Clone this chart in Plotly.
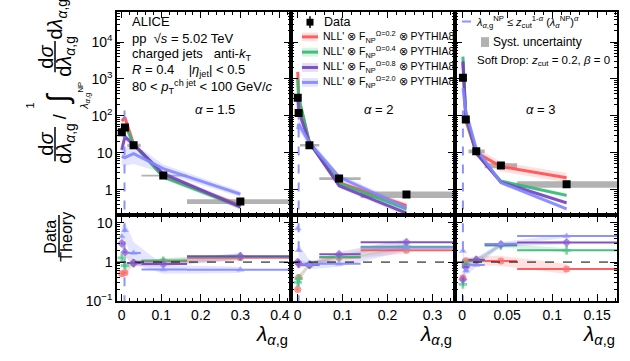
import numpy as np
import plotly.graph_objects as go

# ---- measured distributions (one block per alpha) ----
alphas = ["1.5", "2", "3"]

lam_15 = [0.0, 0.008, 0.03, 0.105, 0.30]
lo_15 = [-0.002, 0.004, 0.014, 0.05, 0.165]
hi_15 = [0.002, 0.012, 0.048, 0.165, 0.45]
data_15 = [36, 48, 16, 2.4, 0.48]
syst_15 = [0.08, 0.08, 0.1, 0.06, 0.15]
nll_15 = [[72, 90, 17, 2.3, 0.37],
          [28, 59, 17, 2.2, 0.35],
          [12, 27, 17, 2.7, 0.34],
          [8, 7.4, 9.4, 3.7, 0.76]]
unc_15 = [[0.2, 0.2, 0.15, 0.15, 0.2],
          [0.2, 0.2, 0.15, 0.15, 0.2],
          [0.25, 0.25, 0.2, 0.15, 0.2],
          [0.7, 0.7, 0.9, 0.3, 0.2]]

lam_2 = [0.0, 0.002, 0.026, 0.092, 0.242]
lo_2 = [-0.002, 0.0005, 0.005, 0.048, 0.14]
hi_2 = [0.0005, 0.005, 0.048, 0.14, 0.36]
data_2 = [310, 120, 16, 2.0, 0.74]
syst_2 = [0.05, 0.05, 0.08, 0.08, 0.2]
nll_2 = [[1550, 300, 18.8, 1.54, 0.37],
         [1030, 316, 18.8, 1.48, 0.30],
         [310, 133, 18.8, 1.27, 0.23],
         [43, 60, 18.8, 2.2, 0.32]]
unc_2 = [[0.2, 0.2, 0.12, 0.15, 0.2],
         [0.2, 0.2, 0.12, 0.15, 0.2],
         [0.25, 0.25, 0.15, 0.15, 0.2],
         [0.5, 0.5, 0.3, 0.2, 0.2]]

lam_3 = [0.0008, 0.004, 0.0156, 0.043, 0.116]
lo_3 = [0.0, 0.002, 0.007, 0.025, 0.061]
hi_3 = [0.002, 0.007, 0.025, 0.061, 0.2]
data_3 = [1070, 80, 11, 4.5, 1.4]
syst_3 = [0.05, 0.05, 0.12, 0.15, 0.2]
nll_3 = [[2700, 74, 10.2, 4.2, 2.1],
         [4000, 89, 10, 1.7, 0.7],
         [3000, 107, 9.6, 1.6, 0.44],
         [560, 133, 13, 1.55, 0.3]]
unc_3 = [[0.2, 0.2, 0.3, 0.35, 0.35],
         [0.2, 0.2, 0.12, 0.12, 0.12],
         [0.2, 0.2, 0.12, 0.12, 0.12],
         [0.3, 0.3, 0.15, 0.12, 0.12]]

np_cut = [0.007, 0.002, 0.0008]
np_line_top = 200

model_names = ["NLL' ⊗ F<sub>NP</sub><sup>Ω=0.2</sup> ⊗ PYTHIA8",
               "NLL' ⊗ F<sub>NP</sub><sup>Ω=0.4</sup> ⊗ PYTHIA8",
               "NLL' ⊗ F<sub>NP</sub><sup>Ω=0.8</sup> ⊗ PYTHIA8",
               "NLL' ⊗ F<sub>NP</sub><sup>Ω=2.0</sup> ⊗ PYTHIA8"]
line_cols = ["rgba(255,80,80,0.9)", "rgba(50,185,115,0.9)", "rgba(115,65,190,0.9)", "rgba(130,135,255,0.9)"]
band_cols = ["rgba(255,120,120,0.22)", "rgba(60,190,120,0.2)", "rgba(130,80,200,0.2)", "rgba(130,135,255,0.22)"]
mark_cols = ["rgba(255,110,110,0.75)", "rgba(70,200,130,0.7)", "rgba(140,90,210,0.7)", "rgba(140,145,255,0.7)"]
symbols = ["circle", "cross", "diamond", "triangle-up"]
np_col = "rgba(130,135,255,0.9)"
syst_col = "rgba(165,165,165,0.85)"

FONT = "Liberation Sans"
panels = [(lam_15, lo_15, hi_15, data_15, syst_15, nll_15, unc_15),
          (lam_2, lo_2, hi_2, data_2, syst_2, nll_2, unc_2),
          (lam_3, lo_3, hi_3, data_3, syst_3, nll_3, unc_3)]

fig = go.Figure()

for p, (lam, lo, hi, dat, syst, nll, unc) in enumerate(panels):
    n = str(p + 1) if p else ""
    nr = str(p + 4)
    lam = np.array(lam); dat = np.array(dat, float)
    lo = np.array(lo); hi = np.array(hi)

    # systematic boxes
    bx, by = [], []
    for i in range(len(lam)):
        bx += [lo[i], hi[i], hi[i], lo[i], lo[i], None]
        by += [dat[i] * (1 - syst[i]), dat[i] * (1 - syst[i]),
               dat[i] * (1 + syst[i]), dat[i] * (1 + syst[i]), dat[i] * (1 - syst[i]), None]
    fig.add_trace(go.Scatter(x=bx, y=by, xaxis="x" + n, yaxis="y" + n, mode="lines",
                             fill="toself", fillcolor=syst_col, line=dict(width=0),
                             name="Syst. uncertainty", hoverinfo="skip"))

    # theory bands and lines
    for m in range(4):
        th = np.array(nll[m], float)
        u = np.array(unc[m])
        fig.add_trace(go.Scatter(x=np.concatenate([lam, lam[::-1]]),
                                 y=np.concatenate([th * (1 + u), (th / (1 + u))[::-1]]),
                                 xaxis="x" + n, yaxis="y" + n, mode="lines", fill="toself",
                                 fillcolor=band_cols[m], line=dict(width=0), hoverinfo="skip"))
    for m in range(4):
        th = np.array(nll[m], float)
        fig.add_trace(go.Scatter(x=lam, y=th, xaxis="x" + n, yaxis="y" + n, mode="lines",
                                 line=dict(color=line_cols[m], width=3), name=model_names[m]))

    # NP cut line
    fig.add_trace(go.Scatter(x=[np_cut[p], np_cut[p]], y=[0.01, np_line_top],
                             xaxis="x" + n, yaxis="y" + n, mode="lines",
                             line=dict(color=np_col, width=2, dash="dash")))
    fig.add_trace(go.Scatter(x=[np_cut[p], np_cut[p]], y=[0.01, 100],
                             xaxis="x" + nr, yaxis="y" + nr, mode="lines",
                             line=dict(color=np_col, width=2, dash="dash")))

    # data
    fig.add_trace(go.Scatter(x=lam, y=dat, xaxis="x" + n, yaxis="y" + n, mode="markers",
                             marker=dict(symbol="square", size=8, color="black"),
                             error_y=dict(type="percent", value=6, color="black", thickness=1.5, width=0),
                             name="Data"))

    # ratio panel
    for m in range(4):
        th = np.array(nll[m], float)
        u = np.array(unc[m])
        r = dat / th
        fig.add_trace(go.Scatter(x=np.concatenate([lam, lam[::-1]]),
                                 y=np.concatenate([r * (1 + u), (r / (1 + u))[::-1]]),
                                 xaxis="x" + nr, yaxis="y" + nr, mode="lines", fill="toself",
                                 fillcolor=band_cols[m], line=dict(width=0), hoverinfo="skip"))
    for m in range(4):
        th = np.array(nll[m], float)
        r = dat / th
        fig.add_trace(go.Scatter(x=lam, y=r, xaxis="x" + nr, yaxis="y" + nr, mode="markers",
                                 marker=dict(symbol=symbols[m], size=7, color=mark_cols[m],
                                             line=dict(width=0)),
                                 error_x=dict(type="data", symmetric=False, array=hi - lam,
                                              arrayminus=lam - lo, color=line_cols[m],
                                              thickness=2, width=0)))
    fig.add_shape(type="line", xref="x" + nr + " domain", yref="y" + nr, x0=0, x1=1, y0=1, y1=1,
                  line=dict(color="black", width=1, dash="dash"))

# ---- axes ----
W, H = 630, 361
xdom = [[117 / W, 291 / W], [291 / W, 455 / W], [455 / W, 617 / W]]
xrng = [[-0.012, 0.428], [-0.015, 0.35], [-0.008, 0.172]]
xdt = [0.1, 0.1, 0.05]
xminor = [0.02, 0.02, 0.01]
top_dom = [1 - 220 / H, 1 - 12 / H]
bot_dom = [1 - 308 / H, 1 - 220 / H]

ax_common = dict(showline=True, linecolor="black", linewidth=1.5, mirror="allticks",
                 ticks="inside", ticklen=7, tickcolor="black", tickwidth=1, showgrid=False,
                 zeroline=False, tickfont=dict(size=14, color="black"))

lay = {}
for p in range(3):
    n = str(p + 1) if p else ""
    nr = str(p + 4)
    lay["xaxis" + n] = dict(ax_common, domain=xdom[p], range=xrng[p], anchor="y" + n,
                            dtick=xdt[p], tick0=0, showticklabels=False,
                            minor=dict(ticks="inside", ticklen=3.5, dtick=xminor[p], tick0=0, tickcolor="black"))
    lay["xaxis" + nr] = dict(ax_common, domain=xdom[p], range=xrng[p], anchor="y" + nr,
                             dtick=xdt[p], tick0=0,
                             minor=dict(ticks="inside", ticklen=3.5, dtick=xminor[p], tick0=0, tickcolor="black"))
    lay["yaxis" + n] = dict(ax_common, domain=top_dom, type="log", range=[-0.69, 4.82],
                            anchor="x" + n, tickmode="array",
                            tickvals=[1, 10, 100, 1000, 10000],
                            ticktext=["1", "10", "10<sup>2</sup>", "10<sup>3</sup>", "10<sup>4</sup>"],
                            showticklabels=(p == 0),
                            minor=dict(ticks="inside", ticklen=3.5, dtick="D1", tickcolor="black"))
    lay["yaxis" + nr] = dict(ax_common, domain=bot_dom, type="log", range=[-1.0, 1.2],
                             anchor="x" + nr, tickmode="array", tickvals=[0.1, 1, 10],
                             ticktext=["10<sup>−1</sup>", "1", "10"],
                             showticklabels=(p == 0),
                             minor=dict(ticks="inside", ticklen=3.5, dtick="D1", tickcolor="black"))

fig.update_layout(**lay)


def px(x):
    return x / W


def py(y):
    return 1 - y / H


ann = []
txt = [("ALICE", 22), ("pp  √<i>s</i> = 5.02 TeV", 39),
       ("charged jets   anti-<i>k</i><sub>T</sub>", 56),
       ("<i>R</i> = 0.4    |<i>η</i><sub>jet</sub>| &lt; 0.5", 72),
       ("80 &lt; <i>p</i><sub>T</sub><sup>ch jet</sup> &lt; 100 GeV/<i>c</i>", 89)]
for t, y in txt:
    ann.append(dict(text=t, x=px(130), y=py(y), xanchor="left", yanchor="middle", font=dict(size=13)))
for t, x in zip(alphas, [215, 378, 540]):
    ann.append(dict(text="<i>α</i> = " + t, x=px(x), y=py(112), xanchor="center", yanchor="middle",
                    font=dict(size=13)))

# legend (drawn by hand so the rows stay as compact as the original)
leg_rows = [22.7, 37.7, 53.3, 69, 84.3]
ann.append(dict(text="Data", x=px(322), y=py(leg_rows[0]), xanchor="left", yanchor="middle",
                font=dict(size=12.5)))
fig.add_shape(type="rect", xref="paper", yref="paper", x0=px(306.5), x1=px(313.5),
              y0=py(leg_rows[0] + 3.5), y1=py(leg_rows[0] - 3.5), fillcolor="black", line=dict(width=0))
fig.add_shape(type="line", xref="paper", yref="paper", x0=px(310), x1=px(310),
              y0=py(leg_rows[0] + 6), y1=py(leg_rows[0] - 6), line=dict(color="black", width=1.5))
for m in range(4):
    yr = leg_rows[m + 1]
    ann.append(dict(text=model_names[m], x=px(321), y=py(yr), xanchor="left", yanchor="middle",
                    font=dict(size=10.5)))
    fig.add_shape(type="rect", xref="paper", yref="paper", x0=px(302), x1=px(318),
                  y0=py(yr + 4.5), y1=py(yr - 4.5), fillcolor=band_cols[m], line=dict(width=0))
    fig.add_shape(type="line", xref="paper", yref="paper", x0=px(302), x1=px(318),
                  y0=py(yr), y1=py(yr), line=dict(color=line_cols[m], width=3))

ann.append(dict(text="<i>λ</i><sub><i>α</i>,g</sub><sup>NP</sup> ≤ <i>z</i><sub>cut</sub><sup>1-<i>α</i></sup> (<i>λ</i><sub><i>α</i></sub><sup>NP</sup>)<sup><i>α</i></sup>",
                x=px(474), y=py(22), xanchor="left", yanchor="middle", font=dict(size=11)))
fig.add_shape(type="line", xref="paper", yref="paper", x0=px(462), x1=px(472),
              y0=py(22), y1=py(22), line=dict(color=np_col, width=2, dash="dash"))
ann.append(dict(text="Syst. uncertainty", x=px(491), y=py(43), xanchor="left", yanchor="middle",
                font=dict(size=12)))
fig.add_shape(type="rect", xref="paper", yref="paper", x0=px(481), x1=px(489),
              y0=py(48), y1=py(38), fillcolor=syst_col, line=dict(width=0))
ann.append(dict(text="Soft Drop: <i>z</i><sub>cut</sub> = 0.2, <i>β</i> = 0", x=px(475), y=py(62),
                xanchor="left", yanchor="middle", font=dict(size=11.5)))

for x in [290, 454, 617]:
    ann.append(dict(text="<i>λ</i><sub><i>α</i>,g</sub>", x=px(x), y=py(343), xanchor="right",
                    yanchor="middle", font=dict(size=21)))

# y-axis titles (rotated)
rot = dict(textangle=-90, xanchor="center", yanchor="middle")
for y in [147, 58]:
    ann.append(dict(rot, text="d<i>σ</i>", x=px(46), y=py(y), font=dict(size=20)))
    ann.append(dict(rot, text="d<i>λ</i><sub><i>α</i>,g</sub>", x=px(66), y=py(y), font=dict(size=20)))
ann.append(dict(rot, text="/", x=px(60), y=py(120), font=dict(size=18)))
ann.append(dict(rot, text="∫", x=px(58), y=py(101), font=dict(size=30)))
ann.append(dict(rot, text="1", x=px(30), y=py(108), font=dict(size=11)))
ann.append(dict(rot, text="<i>λ</i><sub><i>α</i>,g</sub><sup>NP</sup>", x=px(84), y=py(98), font=dict(size=11)))
ann.append(dict(rot, text="d<i>λ</i><sub><i>α</i>,g</sub>", x=px(57), y=py(20), font=dict(size=20)))
ann.append(dict(rot, text="Data", x=px(51), y=py(242), font=dict(size=16)))
ann.append(dict(rot, text="Theory", x=px(67), y=py(242), font=dict(size=16)))

for a in ann:
    a.update(xref="paper", yref="paper", showarrow=False)

for y0, y1 in [(130, 165), (42, 74)]:
    fig.add_shape(type="line", xref="paper", yref="paper", x0=px(55), x1=px(55),
                  y0=py(y0), y1=py(y1), line=dict(color="black", width=1.5))
fig.add_shape(type="line", xref="paper", yref="paper", x0=px(59), x1=px(59),
              y0=py(220), y1=py(263), line=dict(color="black", width=1.5))

fig.update_layout(
    annotations=ann,
    width=W, height=H,
    margin=dict(l=0, r=0, t=0, b=0),
    paper_bgcolor="white", plot_bgcolor="white",
    font=dict(family=FONT, color="black"),
    showlegend=False,
)

fig.write_html("out.html", config={"displayModeBar": False},
               post_script="document.body.style.margin='0';")
